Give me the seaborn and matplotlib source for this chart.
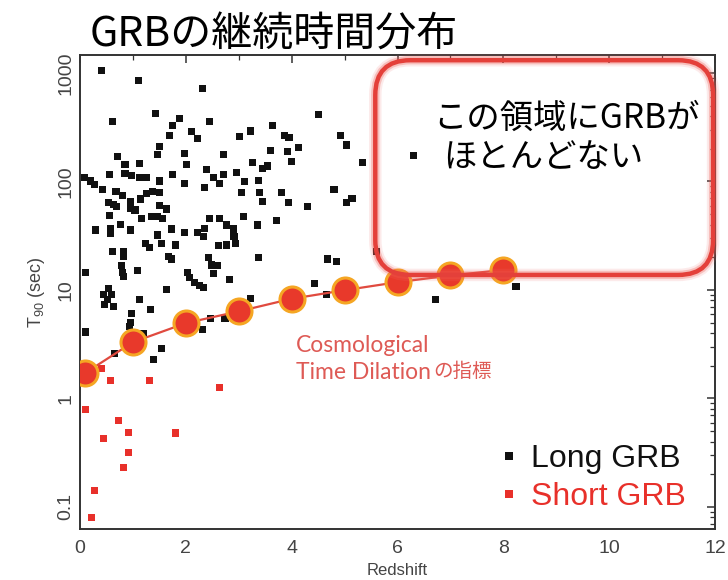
import matplotlib
matplotlib.use("Agg")
import matplotlib.pyplot as plt
from matplotlib.patches import FancyBboxPatch
from matplotlib.ticker import FixedLocator, FixedFormatter, LogLocator, NullFormatter, MultipleLocator
import seaborn as sns
import pandas as pd

# Long GRBs: redshift and T90 duration (s)
long_z = [0.41, 1.10, 2.32, 1.42, 0.62, 1.88, 1.75, 1.69, 2.44, 2.11, 2.22, 1.51, 1.46, 1.98, 2.02,
          2.71, 3.02, 3.23, 3.64, 3.86, 3.95, 3.60, 3.92, 4.13, 3.99, 4.51, 4.93, 5.03, 5.33, 3.26,
          3.45, 3.54, 2.96, 3.10, 3.37, 3.39, 3.45, 3.06, 3.81, 3.94, 4.30, 3.09, 3.36, 3.71, 3.37,
          4.80, 5.03, 5.14, 4.67, 4.84, 4.44, 4.66, 3.23, 0.09, 0.19, 0.28, 0.43, 0.55, 0.71, 0.85,
          1.12, 0.85, 0.98, 1.12, 1.26, 1.51, 1.75, 1.97, 2.39, 2.52, 2.72, 2.63, 2.36, 0.68, 0.81,
          0.95, 0.54, 0.63, 0.69, 0.96, 1.04, 1.15, 1.26, 1.37, 1.51, 1.50, 1.63, 1.17, 1.36, 1.46,
          1.56, 0.55, 0.30, 0.57, 0.57, 0.77, 0.96, 1.46, 1.23, 1.32, 1.54, 1.80, 1.73, 1.97, 2.22,
          2.36, 2.34, 2.44, 2.63, 2.77, 2.90, 2.91, 2.61, 2.77, 2.93, 0.61, 0.82, 0.82, 1.67, 1.73,
          2.43, 2.49, 2.60, 2.52, 0.11, 0.79, 0.81, 0.82, 1.08, 2.03, 2.07, 2.16, 2.26, 2.33, 2.82,
          1.63, 0.54, 0.45, 0.60, 1.12, 0.44, 0.52, 0.63, 0.47, 1.34, 0.98, 0.96, 1.20, 0.93, 0.11,
          0.66, 1.54, 1.39, 2.32, 2.46, 2.74, 6.30, 5.61, 6.71, 8.24]
long_t = [1045, 861, 723, 425, 356, 382, 327, 268, 356, 288, 250, 209, 176, 182, 144,
          178, 259, 292, 327, 268, 253, 192, 188, 205, 152, 416, 268, 217, 149, 149,
          132, 139, 121, 99.5, 103, 79.5, 66, 78.8, 78.8, 63.8, 58.6, 48, 39.7, 43.5, 20,
          83.6, 63.8, 70, 19.3, 18.2, 11.5, 9.1, 8.4, 108, 101, 94, 85, 115, 169, 144,
          147, 119, 113, 108, 108, 101, 116, 96, 128, 108, 115, 96, 88, 80.5, 75,
          65, 64, 61, 58.6, 56.6, 54.6, 69, 78, 80.5, 79.5, 60, 55.8, 46, 47.4, 47.4,
          45.7, 48.4, 35.7, 37, 33.3, 40.4, 35.7, 32.1, 26.9, 24.5, 26.9, 26, 36.5, 34, 34,
          37, 31, 46, 45.7, 39.7, 36.5, 31, 25.6, 26, 26.9, 22.5, 22.5, 20.3, 20.3, 19.3,
          19.9, 17, 16.7, 14.3, 14.6, 16.7, 14.6, 13.3, 15, 14.6, 13, 11.8, 11.1, 10.6, 12.6,
          10.2, 10.4, 9.1, 9.1, 8.1, 9.0, 8.2, 7.1, 7.3, 6.6, 6.1, 5.0, 4.0, 4.6, 4.1,
          2.6, 2.9, 2.3, 4.3, 5.5, 5.5, 173, 22.5, 8.1, 10.7]

# Short GRBs
short_z = [0.41, 0.57, 1.31, 2.63, 0.11, 0.72, 0.91, 0.45, 1.81, 0.91, 0.83, 0.28, 0.22]
short_t = [1.9, 1.46, 1.46, 1.27, 0.79, 0.63, 0.49, 0.43, 0.48, 0.32, 0.23, 0.141, 0.080]

# Time-dilation reference curve
dil_z = [0.1, 1, 2, 3, 4, 5, 6, 7, 8]
dil_t = [1.72, 3.3, 4.95, 6.35, 8.3, 9.95, 11.8, 13.6, 15.3]

categories = ["Long GRB", "Short GRB"]
colors = {"Long GRB": "#111111", "Short GRB": "#e8302a"}

df = pd.DataFrame({
    "z": long_z + short_z,
    "t": long_t + short_t,
    "kind": [categories[0]] * len(long_z) + [categories[1]] * len(short_z),
})
dil = pd.DataFrame({"z": dil_z, "t": dil_t})

sns.set_theme(style="white")
plt.rcParams["font.family"] = ["Liberation Sans", "Noto Sans CJK JP"]
plt.rcParams["mathtext.default"] = "regular"

fig = plt.figure(figsize=(7.28, 5.80), dpi=100)
ax = fig.add_axes([80 / 728, 1 - 529 / 580, 635 / 728, 474 / 580])

sns.scatterplot(data=df, x="z", y="t", hue="kind", palette=colors, marker="s",
                s=26, linewidth=0, ax=ax, zorder=3)

sns.lineplot(data=dil, x="z", y="t", sort=False, estimator=None, ax=ax,
             color="#e04a3f", linewidth=1.6, marker="o", markersize=18,
             markerfacecolor="#e8392b", markeredgecolor="#f5a623", markeredgewidth=2.2,
             zorder=4)

ax.set_yscale("log")
ax.set_xlim(0, 12)
ax.set_ylim(0.0626, 1466)

ax.xaxis.set_major_locator(MultipleLocator(2))
ax.xaxis.set_minor_locator(MultipleLocator(1))
ax.yaxis.set_major_locator(FixedLocator([0.1, 1, 10, 100, 1000]))
ax.yaxis.set_major_formatter(FixedFormatter(["0.1", "1", "10", "100", "1000"]))
ax.yaxis.set_minor_locator(LogLocator(base=10, subs=range(2, 10)))
ax.yaxis.set_minor_formatter(NullFormatter())

ax.tick_params(which="both", direction="in", top=True, right=True, colors="#333333",
               labelcolor="#444444", labelsize=14)
ax.tick_params(which="major", length=6, width=1.1)
ax.tick_params(which="minor", length=3.5, width=0.9)
ax.tick_params(axis="x", which="major", pad=8)
ax.tick_params(axis="y", which="major", labelrotation=90, pad=4)
for lab in ax.get_yticklabels():
    lab.set_va("center")
for sp in ax.spines.values():
    sp.set_color("#333333")
    sp.set_linewidth(1.4)
    sp.set_visible(True)

ax.set_xlabel("Redshift", fontsize=12, color="#444444", labelpad=4)
ax.set_ylabel("T$_{90}$ (sec)", fontsize=13, color="#444444")
ax.yaxis.set_label_coords(-0.052, 0.50)

# Legend with text coloured like the markers
handles, labels = ax.get_legend_handles_labels()
handles, labels = handles[:2], labels[:2]
leg = ax.legend(handles, labels, loc="lower left", bbox_to_anchor=(0.655, 0.036),
                frameon=False, prop={"family": "Liberation Sans", "size": 23},
                markerscale=1.1, handletextpad=0.3, handlelength=0.8, labelspacing=0.25,
                borderaxespad=0, borderpad=0)
for txt, c in zip(leg.get_texts(), ["#111111", "#e8302a"]):
    txt.set_color(c)

# Highlighted empty region
aspect = 635 / 474
for lw, alpha, col in [(9, 0.14, "#f07070"), (6, 0.3, "#ee5a50"), (3.2, 1.0, "#e4403a")]:
    box = FancyBboxPatch((0.465, 0.536), 0.532, 0.453,
                         boxstyle="round,pad=0,rounding_size=0.055",
                         mutation_aspect=aspect, transform=ax.transAxes,
                         fill=False, edgecolor=col, linewidth=lw, alpha=alpha,
                         clip_on=False, zorder=5)
    ax.add_patch(box)

jp = ["Noto Sans CJK JP", "DejaVu Sans"]
ax.text(0.556, 0.867, "この領域にGRBが", transform=ax.transAxes, family=jp,
        fontsize=24, color="black", va="center", ha="left", zorder=6)
ax.text(0.572, 0.783, "ほとんどない", transform=ax.transAxes, family=jp,
        fontsize=24, color="black", va="center", ha="left", zorder=6)

cos_font = ["Lato", "Noto Sans CJK JP"]
cos_color = "#de5a55"
ax.text(0.340, 0.388, "Cosmological", transform=ax.transAxes, family=cos_font,
        fontsize=16.5, color=cos_color, va="center", ha="left")
ax.text(0.340, 0.331, "Time Dilation", transform=ax.transAxes, family=cos_font,
        fontsize=16.5, color=cos_color, va="center", ha="left")
ax.text(0.557, 0.333, "の指標", transform=ax.transAxes, family=jp,
        fontsize=14, color=cos_color, va="center", ha="left")

fig.text(90 / 728, 1 - 35 / 580, "GRBの継続時間分布", family=jp, fontsize=29.5,
         color="black", va="center", ha="left")

fig.savefig("out.png", dpi=100)
